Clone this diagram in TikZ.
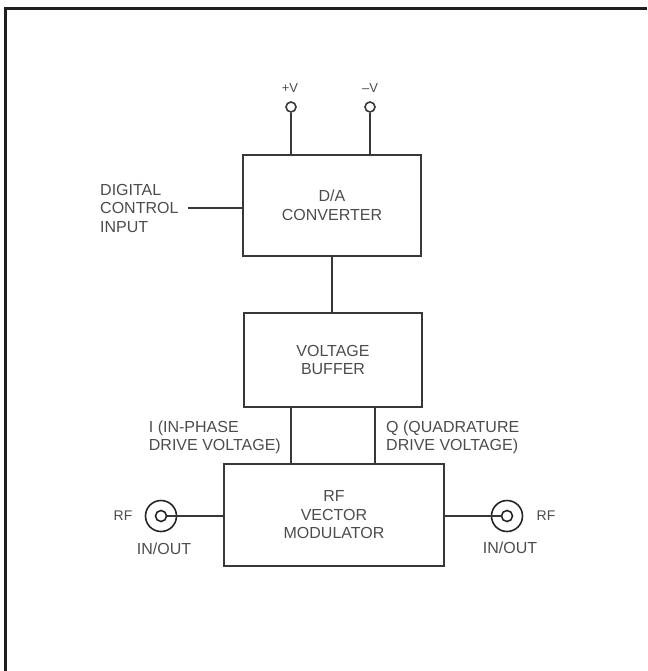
\documentclass[tikz,border=0pt]{standalone}
\usepackage{fontspec}
\setmainfont{Liberation Sans}
\begin{document}
\begin{tikzpicture}[
        x=1pt, y=-1pt,
        txt/.style = {font=\fontsize{16}{18.5}\selectfont, text=black!70, inner sep=0pt},
        box/.style = {rectangle, draw=black!78, line width=1.8pt, align=center, txt},
        wire/.style = {draw=black!78, line width=1.6pt},
        term/.style = {circle, draw=black!78, line width=1.6pt, minimum size=10pt, inner sep=0pt},
        coax/.style = {circle, draw=black!85, line width=1.6pt, inner sep=0pt}
    ]
    \useasboundingbox (0,0) rectangle (647,671);
    % marco
    \draw[line width=3pt, black!88] (5.5,671) -- (5.5,8.5) -- (647,8.5);

    % ================= D/A =================
    \node[box, minimum width=178pt, minimum height=101pt] (da) at (332,205.5) {D/A \\ CONVERTER};
    \node[term] (pv) at (291,107) {};
    \node[term] (nv) at (370,107) {};
    \node[txt, font=\fontsize{13}{15}\selectfont] (pvl) at (290,88) {+V};
    \node[txt, font=\fontsize{13}{15}\selectfont] (nvl) at (370,88) {–V};
    \draw[wire] (pv.south) -- (pv.south |- da.north);
    \draw[wire] (nv.south) -- (nv.south |- da.north);
    %
    \node[txt, align=left, anchor=west] (dci) at (100,208) {DIGITAL \\ CONTROL \\ INPUT};
    \node[inner sep=0pt] (dcie) at (187,208) {};
    \draw[wire] (dcie) -- (dcie -| da.west);

    % ================= BUFFER =================
    \node[box, minimum width=178pt, minimum height=94pt] (buf) at (333,360) {VOLTAGE \\ BUFFER};
    \draw[wire] (da.south) -- (da.south |- buf.north);

    % ================= MODULADOR =================
    \node[box, minimum width=220pt, minimum height=102pt] (mod) at (334,515) {RF \\ VECTOR \\ MODULATOR};
    \draw[wire] ([xshift=48pt]buf.south west) -- ([xshift=48pt]buf.south west |- mod.north);
    \draw[wire] ([xshift=-48pt]buf.south east) -- ([xshift=-48pt]buf.south east |- mod.north);
    \node[txt, align=left, anchor=east] (ilab) at (281,437.5) {I (IN-PHASE \\ DRIVE VOLTAGE)};
    \node[txt, align=left, anchor=west] (qlab) at (386,437.5) {Q (QUADRATURE \\ DRIVE VOLTAGE)};

    % conectores RF
    \node[coax, minimum size=31pt] (rfl) at (161,516) {};
    \node[coax, minimum size=11pt] (rfli) at (rfl) {};
    \node[coax, minimum size=31pt] (rfr) at (507,516) {};
    \node[coax, minimum size=11pt] (rfri) at (rfr) {};
    \draw[wire] (rfli.east) -- (rfli.east -| mod.west);
    \draw[wire] (rfri.west) -- (rfri.west -| mod.east);
    \node[txt, font=\fontsize{14}{16}\selectfont] (rfll) at (123,516) {RF};
    \node[txt, font=\fontsize{14}{16}\selectfont] (rfrl) at (546,516) {RF};
    \node[txt, font=\fontsize{16}{18}\selectfont] (iol) at (164,549) {IN/OUT};
    \node[txt, font=\fontsize{16}{18}\selectfont] (ior) at (510,548) {IN/OUT};

    \end{tikzpicture}
\end{document}
